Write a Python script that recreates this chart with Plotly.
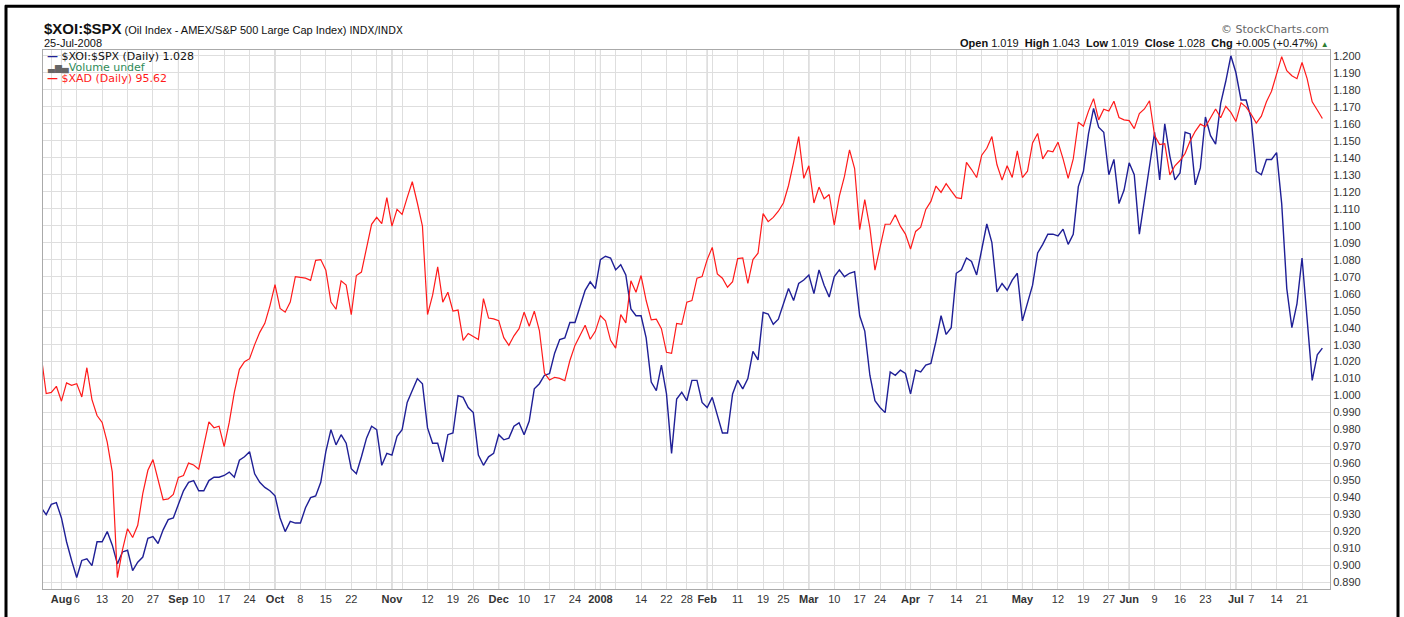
import pandas as pd
import plotly.graph_objects as go

# trading days shown (NYSE holidays removed)
holidays = ["2007-09-03", "2007-11-22", "2007-12-25", "2008-01-01", "2008-01-21",
            "2008-02-18", "2008-03-21", "2008-05-26", "2008-07-04"]
dates = [d for d in pd.bdate_range("2007-07-26", "2008-07-25")
         if d.strftime("%Y-%m-%d") not in holidays]

# $XOI:$SPX ratio, daily close
xoi_spx = [
    0.934, 0.930, 0.936, 0.937, 0.928, 0.914, 0.903, 0.893, 0.903, 0.904,
    0.900, 0.914, 0.914, 0.920, 0.912, 0.901, 0.908, 0.909, 0.897, 0.902,
    0.905, 0.916, 0.917, 0.913, 0.921, 0.927, 0.928, 0.936, 0.944, 0.949,
    0.950, 0.944, 0.944, 0.950, 0.952, 0.952, 0.953, 0.955, 0.952, 0.962,
    0.964, 0.967, 0.954, 0.949, 0.946, 0.944, 0.941, 0.928, 0.920, 0.926,
    0.925, 0.925, 0.934, 0.940, 0.941, 0.949, 0.967, 0.980, 0.971, 0.977,
    0.972, 0.957, 0.954, 0.964, 0.975, 0.982, 0.980, 0.959, 0.966, 0.965,
    0.976, 0.980, 0.996, 1.003, 1.010, 1.007, 0.981, 0.972, 0.972, 0.961,
    0.977, 0.978, 1.000, 0.999, 0.993, 0.990, 0.965, 0.959, 0.964, 0.966,
    0.977, 0.974, 0.975, 0.982, 0.984, 0.977, 0.985, 1.004, 1.007, 1.012,
    1.013, 1.025, 1.033, 1.034, 1.043, 1.043, 1.053, 1.062, 1.067, 1.063,
    1.080, 1.082, 1.081, 1.074, 1.077, 1.071, 1.051, 1.047, 1.047, 1.034,
    1.008, 1.003, 1.018, 1.001, 0.966, 0.998, 1.002, 0.997, 1.009, 1.009,
    0.996, 0.993, 0.999, 0.988, 0.978, 0.978, 1.001, 1.009, 1.004, 1.010,
    1.026, 1.021, 1.049, 1.048, 1.042, 1.045, 1.054, 1.063, 1.056, 1.066,
    1.068, 1.071, 1.060, 1.074, 1.065, 1.058, 1.070, 1.074, 1.070, 1.072,
    1.073, 1.047, 1.038, 1.012, 0.997, 0.993, 0.990, 1.014, 1.012, 1.015,
    1.013, 1.001, 1.015, 1.014, 1.018, 1.019, 1.032, 1.047, 1.036, 1.040,
    1.072, 1.074, 1.081, 1.079, 1.071, 1.087, 1.101, 1.090, 1.061, 1.066,
    1.062, 1.068, 1.072, 1.044, 1.054, 1.065, 1.084, 1.089, 1.095, 1.095,
    1.094, 1.098, 1.089, 1.095, 1.123, 1.132, 1.154, 1.169, 1.158, 1.155,
    1.130, 1.139, 1.113, 1.121, 1.137, 1.130, 1.095, 1.115, 1.134, 1.155,
    1.127, 1.160, 1.141, 1.127, 1.131, 1.155, 1.154, 1.124, 1.134, 1.164,
    1.153, 1.148, 1.172, 1.185, 1.200, 1.190, 1.174, 1.174, 1.163, 1.132,
    1.130, 1.139, 1.139, 1.143, 1.113, 1.063, 1.040, 1.054, 1.081, 1.046,
    1.009, 1.024, 1.028,
]

# $XAD overlay, daily close
xad = [
    86.72, 85.27, 85.31, 85.54, 84.98, 85.67, 85.58, 85.64, 85.14, 86.24,
    85.04, 84.44, 84.18, 83.44, 82.31, 78.34, 79.38, 80.18, 79.85, 80.31,
    81.51, 82.38, 82.78, 81.98, 81.27, 81.30, 81.47, 82.11, 82.18, 82.65,
    82.58, 82.42, 83.31, 84.20, 83.98, 84.04, 83.27, 84.18, 85.31, 86.18,
    86.47, 86.58, 87.11, 87.57, 87.91, 88.57, 89.37, 88.47, 88.33, 88.71,
    89.67, 89.64, 89.61, 89.53, 90.28, 90.31, 89.91, 88.71, 88.44, 89.51,
    89.35, 88.24, 89.71, 89.84, 90.71, 91.64, 91.90, 91.66, 92.64, 91.57,
    92.20, 92.01, 92.64, 93.24, 92.44, 91.57, 88.24, 88.97, 90.04, 88.71,
    89.08, 88.37, 88.41, 87.27, 87.53, 87.40, 87.30, 88.84, 88.11, 88.08,
    88.01, 87.37, 87.08, 87.44, 87.71, 88.33, 87.80, 88.37, 87.64, 86.04,
    85.78, 85.88, 85.84, 85.75, 86.51, 87.08, 87.44, 87.84, 87.31, 87.61,
    88.20, 88.01, 87.27, 86.98, 88.24, 87.93, 89.51, 89.08, 89.71, 88.77,
    88.04, 88.07, 87.71, 86.82, 86.78, 87.91, 87.87, 88.71, 88.77, 89.61,
    89.67, 90.31, 90.77, 89.77, 89.61, 89.27, 89.48, 90.35, 90.37, 89.41,
    90.31, 90.55, 92.04, 91.74, 91.90, 92.13, 92.44, 93.10, 93.97, 94.94,
    93.37, 93.84, 92.44, 93.04, 92.60, 92.76, 91.61, 92.70, 93.44, 94.44,
    93.74, 91.44, 92.57, 91.51, 89.91, 90.77, 91.64, 91.64, 92.00, 91.57,
    91.27, 90.71, 91.37, 91.53, 92.20, 92.50, 93.08, 92.84, 93.17, 92.90,
    92.64, 92.61, 93.97, 93.70, 93.40, 94.24, 94.50, 94.94, 93.88, 93.30,
    93.84, 93.40, 94.40, 93.40, 93.64, 94.70, 95.06, 94.10, 94.41, 94.37,
    94.73, 94.10, 93.37, 94.10, 95.48, 95.33, 95.90, 96.37, 95.57, 95.97,
    95.90, 96.27, 95.66, 95.57, 95.54, 95.24, 95.81, 95.98, 96.29, 94.98,
    94.64, 94.67, 93.50, 93.84, 94.04, 94.31, 94.78, 95.14, 95.41, 95.31,
    95.62, 95.98, 95.65, 96.08, 95.85, 95.51, 96.21, 96.05, 95.78, 95.45,
    95.71, 96.25, 96.65, 97.26, 97.95, 97.42, 97.23, 97.12, 97.73, 97.12,
    96.25, 95.94, 95.62,
]

# labelled x ticks
tick_dates = [
    "2007-08-01", "2007-08-06", "2007-08-13", "2007-08-20", "2007-08-27",
    "2007-09-04", "2007-09-10", "2007-09-17", "2007-09-24",
    "2007-10-01", "2007-10-08", "2007-10-15", "2007-10-22",
    "2007-11-01", "2007-11-12", "2007-11-19", "2007-11-26",
    "2007-12-03", "2007-12-10", "2007-12-17", "2007-12-24",
    "2008-01-02", "2008-01-14", "2008-01-22", "2008-01-28",
    "2008-02-01", "2008-02-11", "2008-02-19", "2008-02-25",
    "2008-03-03", "2008-03-10", "2008-03-17", "2008-03-24",
    "2008-04-01", "2008-04-07", "2008-04-14", "2008-04-21",
    "2008-05-01", "2008-05-12", "2008-05-19", "2008-05-27",
    "2008-06-02", "2008-06-09", "2008-06-16", "2008-06-23",
    "2008-07-01", "2008-07-07", "2008-07-14", "2008-07-21",
]
tick_labels = [
    "<b>Aug</b>", "6", "13", "20", "27",
    "<b>Sep</b>", "10", "17", "24",
    "<b>Oct</b>", "8", "15", "22",
    "<b>Nov</b>", "12", "19", "26",
    "<b>Dec</b>", "10", "17", "24",
    "<b>2008</b>", "14", "22", "28",
    "<b>Feb</b>", "11", "19", "25",
    "<b>Mar</b>", "10", "17", "24",
    "<b>Apr</b>", "7", "14", "21",
    "<b>May</b>", "12", "19", "27",
    "<b>Jun</b>", "9", "16", "23",
    "<b>Jul</b>", "7", "14", "21",
]

if len(dates) != len(xoi_spx) or len(dates) != len(xad):
    raise SystemExit(f"length mismatch {len(dates)} {len(xoi_spx)} {len(xad)}")

W, H = 1404, 617
PL, PR, PT, PB = 43, 1330, 50, 591          # plot box in page pixels
BLUE, RED = "#1f1f96", "#ff1a1a"
FONT = "Liberation Sans, Arial, sans-serif"

pos = {d.strftime("%Y-%m-%d"): i for i, d in enumerate(dates)}
x = list(range(len(dates)))

# weekly and monthly grid positions
week_pos, month_pos = [], []
for i in range(1, len(dates)):
    if dates[i].isocalendar()[1] != dates[i - 1].isocalendar()[1]:
        week_pos.append(i)
    if dates[i].month != dates[i - 1].month:
        month_pos.append(i)

label_at = {pos[d]: t for d, t in zip(tick_dates, tick_labels)}
grid_vals = sorted(set(week_pos) | set(month_pos) | set(label_at))
grid_text = [label_at.get(v, "") for v in grid_vals]


def px(xp):
    return (xp - PL) / (PR - PL)


def py(yp):
    return 1 - (yp - PT) / (PB - PT)


fig = go.Figure()
fig.add_trace(go.Scatter(x=x, y=xoi_spx, mode="lines", name="$XOI:$SPX",
                         line=dict(color=BLUE, width=1.4), showlegend=False))
fig.add_trace(go.Scatter(x=x, y=xad, mode="lines", name="$XAD", yaxis="y2",
                         line=dict(color=RED, width=1.2), showlegend=False))

# darker month separators
for m in month_pos:
    fig.add_shape(type="line", xref="x", yref="paper", x0=m, x1=m, y0=0, y1=1,
                  line=dict(color="#b8b8b8", width=1), layer="below")

# outer black frame
for x0, y0, x1, y1 in [(6, 5, 6, 640), (5, 6, 1400, 6), (1398, 5, 1398, 640)]:
    fig.add_shape(type="line", xref="paper", yref="paper",
                  x0=px(x0), x1=px(x1), y0=py(y0), y1=py(y1),
                  line=dict(color="black", width=3))

ann = dict(xref="paper", yref="paper", showarrow=False, yanchor="middle")
fig.add_annotation(
    x=px(42), y=py(28), xanchor="left",
    text="<span style='font-size:15px'><b>$XOI:$SPX</b></span>"
         " (Oil Index - AMEX/S&amp;P 500 Large Cap Index) "
         "<span style='font-size:10px;font-family:DejaVu Sans'>INDX/INDX</span>",
    font=dict(family=FONT, size=11, color="#111"), **ann)
fig.add_annotation(x=px(42), y=py(43), xanchor="left", text="25-Jul-2008",
                   font=dict(family=FONT, size=11, color="#111"), **ann)
fig.add_annotation(x=px(1331), y=py(29), xanchor="right", text="© StockCharts.com",
                   font=dict(family="DejaVu Sans, sans-serif", size=11, color="#666"), **ann)
fig.add_annotation(
    x=px(1331), y=py(43), xanchor="right",
    text="<b>Open</b> 1.019&nbsp; <b>High</b> 1.043&nbsp; <b>Low</b> 1.019&nbsp; "
         "<b>Close</b> 1.028&nbsp; <b>Chg</b> +0.005 (+0.47%) "
         "<span style='color:#2e7d32;font-size:8px'>▲</span>",
    font=dict(family=FONT, size=11, color="#111"), **ann)

# legend rows
leg_font = dict(family="DejaVu Sans, sans-serif", size=11)
fig.add_annotation(x=px(45), y=py(57), xanchor="left",
                   text=f"<span style='color:{BLUE}'><b>—</b></span> $XOI:$SPX (Daily) 1.028",
                   font=dict(color="#111", **leg_font), **ann)
fig.add_annotation(x=px(45), y=py(68), xanchor="left",
                   text="<span style='color:#666;font-size:9px'>▃▆▄</span>Volume undef",
                   font=dict(color="#2e8b57", **leg_font), **ann)
fig.add_annotation(x=px(45), y=py(79), xanchor="left",
                   text="<b>—</b> $XAD (Daily) 95.62",
                   font=dict(color=RED, **leg_font), **ann)

y_ticks = [round(0.89 + 0.01 * k, 3) for k in range(32)]

fig.update_layout(
    width=W, height=H,
    margin=dict(l=PL, r=W - PR, t=PT, b=H - PB),
    paper_bgcolor="white", plot_bgcolor="white",
    font=dict(family=FONT, size=11, color="#333"),
    xaxis=dict(range=[0.37, len(dates) + 0.5], tickmode="array",
               tickvals=grid_vals, ticktext=grid_text, tickangle=0,
               showgrid=True, gridcolor="#dedede", gridwidth=1, zeroline=False,
               showline=True, linecolor="#aaaaaa", mirror=True,
               ticks="", tickfont=dict(size=11, color="#333")),
    yaxis=dict(range=[0.8862, 1.2034], side="right", tickmode="array",
               tickvals=y_ticks, tickformat=".3f", showgrid=True,
               gridcolor="#dedede", zeroline=False, showline=True,
               linecolor="#aaaaaa", mirror=True, ticks="",
               tickfont=dict(size=11, color="#333")),
    yaxis2=dict(range=[77.91, 98.20], overlaying="y", visible=False),
)

# drop the default body margin so the figure sits at the page corner
fig.write_html("out.html", config={"displayModeBar": False},
               post_script="document.body.style.margin='0';")
